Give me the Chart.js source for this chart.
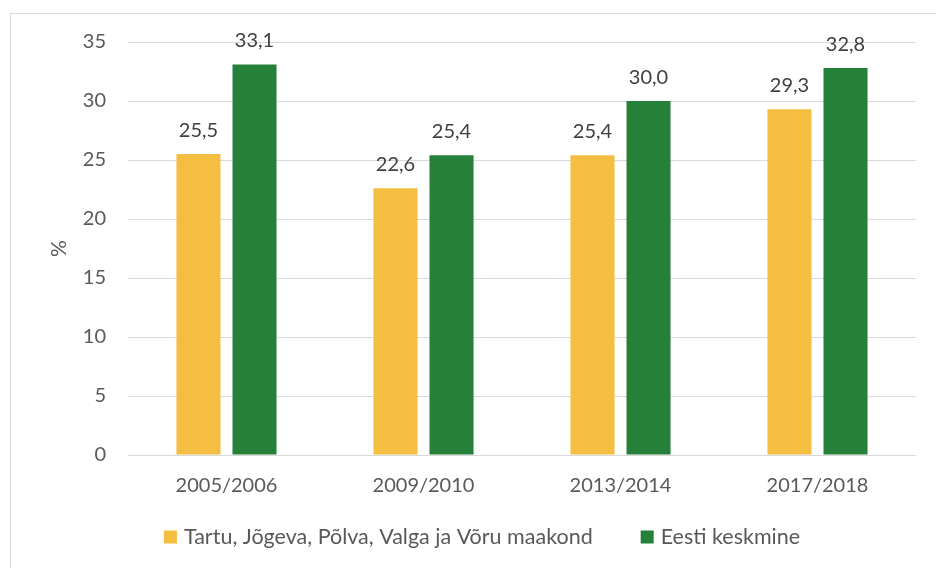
<!DOCTYPE html>
<html>
<head>
<meta charset="utf-8">
<script src="https://cdn.jsdelivr.net/npm/chart.js@4/dist/chart.umd.min.js"></script>
<style>
  html, body { margin: 0; padding: 0; background: #fff; }
  #wrap { position: relative; width: 936px; height: 568px; }
</style>
</head>
<body>
<div id="wrap"><canvas id="barChart" width="936" height="568"></canvas></div>
<script>
const periods = ["2005/2006", "2009/2010", "2013/2014", "2017/2018"];
const regionValues = [25.5, 22.6, 25.4, 29.3];
const estoniaValues = [33.1, 25.4, 30.0, 32.8];
const yTicks = [0, 5, 10, 15, 20, 25, 30, 35];

const regionName = "Tartu, Jõgeva, Põlva, Valga ja Võru maakond";
const estoniaName = "Eesti keskmine";

const yellow = "#F4BE41";
const green = "#25803A";
const fontFamily = "Lato, 'Open Sans', sans-serif";

const fmt = v => v.toFixed(1).replace(".", ",");

// value labels above each bar
const valueLabels = {
  id: "valueLabels",
  afterDatasetsDraw(chart) {
    const c = chart.ctx;
    c.save();
    c.font = "20px " + fontFamily;
    c.fillStyle = "#404040";
    c.textAlign = "center";
    c.textBaseline = "alphabetic";
    chart.data.datasets.forEach((ds, i) => {
      chart.getDatasetMeta(i).data.forEach((bar, j) => {
        c.fillText(fmt(ds.data[j]), bar.x, bar.y - 17);
      });
    });
    c.restore();
  }
};

// outer frame + legend row underneath the axis
const frameAndLegend = {
  id: "frameAndLegend",
  afterDraw(chart) {
    const c = chart.ctx;
    c.save();
    c.strokeStyle = "#d9d9d9";
    c.lineWidth = 1;
    c.strokeRect(10.5, 13.5, 1000, 1000);

    c.font = "21.5px " + fontFamily;
    c.textBaseline = "middle";
    c.textAlign = "left";
    const items = chart.data.datasets.map(ds => ({ text: ds.label, color: ds.backgroundColor }));
    const box = 13, gapText = 7, gapItem = 48;
    let total = 0;
    items.forEach((it, i) => {
      it.w = c.measureText(it.text).width;
      total += box + gapText + it.w + (i < items.length - 1 ? gapItem : 0);
    });
    let x = 482 - total / 2;
    const y = 537;
    items.forEach(it => {
      c.fillStyle = it.color;
      c.fillRect(x, y - box / 2, box, box);
      c.fillStyle = "#595959";
      c.fillText(it.text, x + box + gapText, y);
      x += box + gapText + it.w + gapItem;
    });
    c.restore();
  }
};

new Chart(document.getElementById("barChart"), {
  type: "bar",
  data: {
    labels: periods,
    datasets: [
      { label: regionName, data: regionValues, backgroundColor: yellow },
      { label: estoniaName, data: estoniaValues, backgroundColor: green }
    ]
  },
  options: {
    responsive: false,
    animation: false,
    layout: { padding: { left: 47, top: 42, right: 20, bottom: 0 } },
    datasets: { bar: { categoryPercentage: 0.569, barPercentage: 0.786 } },
    plugins: { legend: { display: false }, tooltip: { enabled: false } },
    scales: {
      x: {
        grid: { display: false, drawTicks: false },
        border: { display: false },
        ticks: { color: "#595959", font: { family: fontFamily, size: 20 }, padding: 19 },
        afterFit: s => { s.height = 113; }
      },
      y: {
        min: 0,
        max: 35,
        afterBuildTicks: s => { s.ticks = yTicks.map(v => ({ value: v })); },
        grid: { color: "#d9d9d9", lineWidth: 1, drawTicks: false },
        border: { display: false },
        ticks: { color: "#595959", font: { family: fontFamily, size: 20 }, padding: 22 },
        title: { display: true, text: "%", color: "#595959", font: { family: fontFamily, size: 21 }, padding: 0 },
        afterFit: s => { s.width = 81; }
      }
    }
  },
  plugins: [valueLabels, frameAndLegend]
});
</script>
</body>
</html>
